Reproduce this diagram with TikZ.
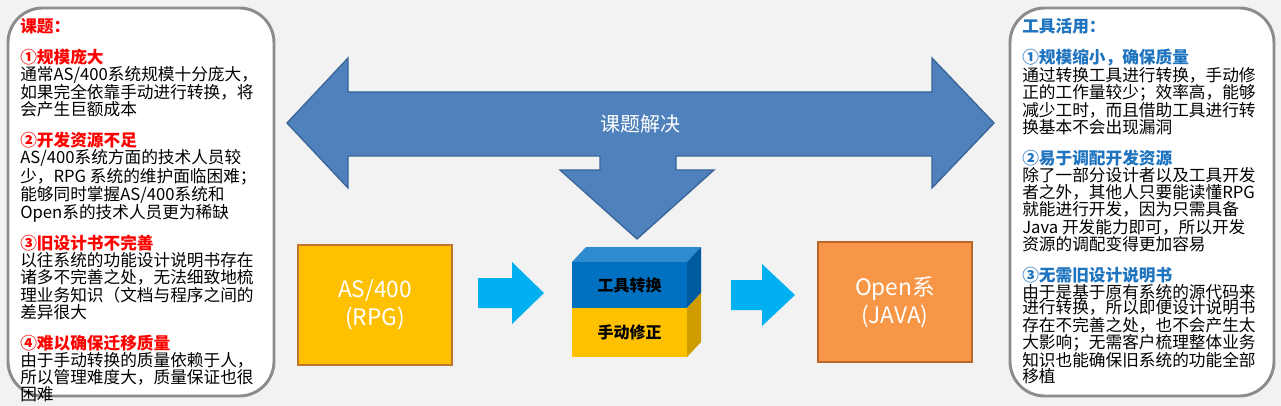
\documentclass[tikz,border=0pt]{standalone}
\usepackage{fontspec}
\setmainfont{Noto Sans CJK SC}
\definecolor{bgray}{HTML}{F2F2F2}
\definecolor{panelline}{HTML}{8C8C8C}
\definecolor{hred}{HTML}{FF0000}
\definecolor{hblue}{HTML}{1F74C0}
\definecolor{bigblue}{HTML}{4F81BD}
\definecolor{bigline}{HTML}{3A6598}
\definecolor{cyanarrow}{HTML}{00B0F0}
\definecolor{goldfill}{HTML}{FFC000}
\definecolor{goldline}{HTML}{C0772B}
\definecolor{orgfill}{HTML}{F79646}
\definecolor{orgline}{HTML}{B9652B}
\definecolor{cubeblue}{HTML}{0070C0}
\definecolor{cubetop}{HTML}{2E8BD0}
\definecolor{cubeside}{HTML}{005A9E}
\definecolor{cubeyside}{HTML}{CF9C00}
\tikzset{
  panel/.style={draw=panelline,line width=2.2pt,fill=white,rounded corners=26pt},
  paneltext/.style={anchor=north west,align=left,inner sep=0pt,
    font=\fontsize{12.5}{11.6}\selectfont},
  sysbox/.style={minimum width=115.5pt,minimum height=90pt,line width=1.5pt,
    text=white,align=center,font=\fontsize{17}{21}\selectfont},
  flow/.style={fill=cyanarrow},
}
\newcommand{\hr}[1]{{\color{hred}\bfseries #1}}
\newcommand{\hb}[1]{{\color{hblue}\bfseries #1}}
\begin{document}
\begin{tikzpicture}[x=0.75pt,y=-0.75pt]
   \useasboundingbox (0,0) rectangle (1281,406);
   \fill[bgray] (0,0) rectangle (1281,406);
   % side panels
   \draw[panel] (8,8) rectangle (274,396);
   \draw[panel] (1010,8) rectangle (1274,396);
   \node[paneltext] (issues) at (20,18) {\hr{课题：}\\ \\
     \hr{①规模庞大}\\
     通常AS/400系统规模十分庞大，\\
     如果完全依靠手动进行转换，将\\
     会产生巨额成本\\ \\
     \hr{②开发资源不足}\\
     AS/400系统方面的技术人员较\\
     少，RPG 系统的维护面临困难；\\
     能够同时掌握AS/400系统和\\
     Open系的技术人员更为稀缺\\ \\
     \hr{③旧设计书不完善}\\
     以往系统的功能设计说明书存在\\
     诸多不完善之处，无法细致地梳\\
     理业务知识（文档与程序之间的\\
     差异很大\\ \\
     \hr{④难以确保迁移质量}\\
     由于手动转换的质量依赖于人，\\
     所以管理难度大，质量保证也很\\
     困难};
   \node[paneltext] (tools) at (1022,18) {\hb{工具活用：}\\ \\
     \hb{①规模缩小，确保质量}\\
     通过转换工具进行转换，手动修\\
     正的工作量较少；效率高，能够\\
     减少工时，而且借助工具进行转\\
     换基本不会出现漏洞\\ \\
     \hb{②易于调配开发资源}\\
     除了一部分设计者以及工具开发\\
     者之外，其他人只要能读懂RPG\\
     就能进行开发，因为只需具备\\
     Java 开发能力即可，所以开发\\
     资源的调配变得更加容易\\ \\
     \hb{③无需旧设计说明书}\\
     由于是基于原有系统的源代码来\\
     进行转换，所以即便设计说明书\\
     存在不完善之处，也不会产生太\\
     大影响；无需客户梳理整体业务\\
     知识也能确保旧系统的功能全部\\
     移植};
   % big double arrow with down stem
   \draw[fill=bigblue,draw=bigline,line width=1pt]
     (287,123) -- (348,58) -- (348,92) -- (932,92) -- (932,58) -- (994,123)
     -- (932,188) -- (932,156) -- (676,156) -- (676,170) -- (714,170)
     -- (637,239) -- (560,170) -- (600,170) -- (600,156) -- (348,156)
     -- (348,188) -- cycle;
   \node[text=white,font=\fontsize{15}{18}\selectfont] (solve) at (640,124) {课题解决};
   % systems
   \node[sysbox,fill=goldfill,draw=goldline] (as400) at (375,305) {AS/400\\(RPG)};
   \node[sysbox,fill=orgfill,draw=orgline] (open) at (895,302) {Open系\\(JAVA)};
   % flow arrows
   \fill[flow] (478,278) -- (512,278) -- (512,262) -- (544,293) -- (512,324)
     -- (512,308) -- (478,308) -- cycle;
   \fill[flow] (731,280) -- (762,280) -- (762,264) -- (795,295) -- (762,326)
     -- (762,310) -- (731,310) -- cycle;
   % tool cube
   \fill[cubetop] (572,262) -- (586,247) -- (701,247) -- (687,262) -- cycle;
   \fill[cubeside] (687,262) -- (701,247) -- (701,293) -- (687,308) -- cycle;
   \fill[cubeyside] (687,308) -- (701,293) -- (701,342) -- (687,357) -- cycle;
   \node[fill=cubeblue,minimum width=86pt,minimum height=34.5pt,inner sep=0pt,
     anchor=north west,font=\fontsize{12}{14}\selectfont\bfseries] (conv) at (572,262) {工具转换};
   \node[fill=goldfill,minimum width=86pt,minimum height=36.75pt,inner sep=0pt,
     anchor=north west,font=\fontsize{12}{14}\selectfont\bfseries] (fix) at (572,308) {手动修正};
\end{tikzpicture}
\end{document}
